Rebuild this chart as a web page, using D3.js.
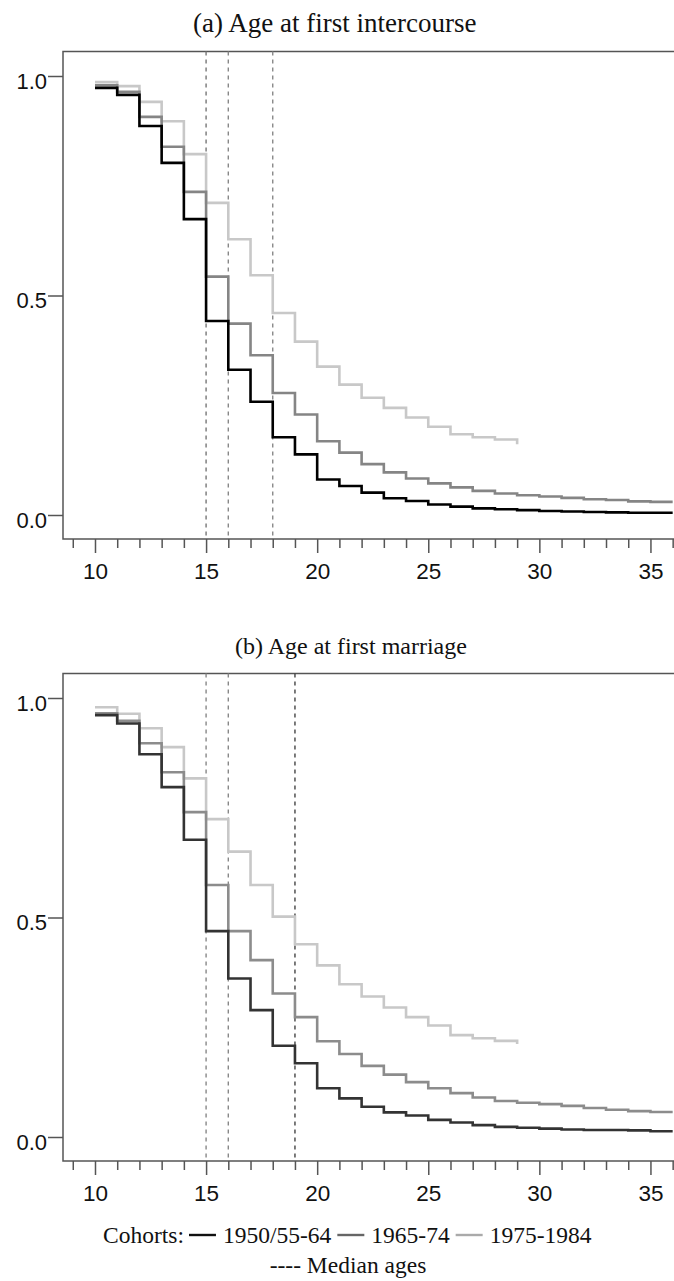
<!DOCTYPE html>
<html>
<head>
<meta charset="utf-8">
<script src="https://cdn.jsdelivr.net/npm/d3@7"></script>
<style>
  body { margin: 0; background: #fff; }
  svg { display: block; }
</style>
</head>
<body>
<div id="chart"></div>
<script>
// survival curves, one value per year of age starting at 10
const ages = [10, 11, 12, 13, 14, 15, 16, 17, 18, 19, 20, 21, 22, 23, 24, 25, 26, 27, 28, 29, 30, 31, 32, 33, 34, 35, 36];
const xTicks = [9, 10, 11, 12, 13, 14, 15, 16, 17, 18, 19, 20, 21, 22, 23, 24, 25, 26, 27, 28, 29, 30, 31, 32, 33, 34, 35, 36];
const xLabels = [10, 15, 20, 25, 30, 35];
const yTicks = [0, 0.5, 1];

const cohorts = ["1950/55-64", "1965-74", "1975-1984"];

// (a) first intercourse
const sexOld = [0.973, 0.957, 0.886, 0.802, 0.674, 0.442, 0.331, 0.258, 0.177, 0.138, 0.081, 0.066, 0.051, 0.038, 0.032, 0.024, 0.019, 0.015, 0.013, 0.011, 0.009, 0.008, 0.007, 0.006, 0.005, 0.005];
const sexMid = [0.979, 0.964, 0.907, 0.839, 0.736, 0.543, 0.436, 0.364, 0.278, 0.229, 0.168, 0.142, 0.116, 0.097, 0.083, 0.072, 0.063, 0.055, 0.049, 0.045, 0.042, 0.039, 0.036, 0.034, 0.031, 0.030];
const sexYoung = [0.986, 0.977, 0.941, 0.897, 0.822, 0.711, 0.628, 0.546, 0.460, 0.395, 0.338, 0.297, 0.267, 0.244, 0.222, 0.201, 0.184, 0.177, 0.172, 0.161];
const sexMedians = [15, 16, 18];

// (b) first marriage
const marOld = [0.961, 0.942, 0.872, 0.797, 0.677, 0.469, 0.361, 0.289, 0.208, 0.168, 0.111, 0.088, 0.069, 0.056, 0.049, 0.039, 0.033, 0.027, 0.023, 0.021, 0.019, 0.017, 0.016, 0.016, 0.015, 0.013];
const marMid = [0.965, 0.948, 0.897, 0.831, 0.740, 0.574, 0.469, 0.403, 0.327, 0.273, 0.218, 0.189, 0.162, 0.142, 0.125, 0.111, 0.100, 0.090, 0.082, 0.078, 0.075, 0.071, 0.066, 0.062, 0.059, 0.057];
const marYoung = [0.979, 0.964, 0.931, 0.888, 0.817, 0.724, 0.650, 0.574, 0.502, 0.439, 0.391, 0.348, 0.320, 0.295, 0.273, 0.254, 0.232, 0.225, 0.219, 0.212];
const marMedians = [15, 16, 19];

const width = 674, height = 1281;
const serif = "'Liberation Serif', 'Times New Roman', serif";
const sans = "'Liberation Sans', Arial, sans-serif";

const svg = d3.select("#chart").append("svg")
    .attr("width", width)
    .attr("height", height);

const x = d3.scaleLinear().domain([8.56, 36.06]).range([63, 674]);

const panels = [
    { title: "(a) Age at first intercourse", titleX: 193, titleSize: 27, series: [sexYoung, sexMid, sexOld],
      colors: ["#c8c8c8", "#858585", "#000000"], medians: sexMedians, medColors: ["#777", "#888", "#888"], top: 0 },
    { title: "(b) Age at first marriage", titleX: 235, titleSize: 24, series: [marYoung, marMid, marOld],
      colors: ["#c8c8c8", "#8c8c8c", "#333333"], medians: marMedians, medColors: ["#888", "#888", "#444"], top: 622 }
];

panels.forEach(p => {
    const g = svg.append("g").attr("transform", `translate(0,${p.top})`);
    const y = d3.scaleLinear().domain([0, 1]).range([515, 76]);
    const frameTop = 51.5, axisY = 539;

    g.append("text")
        .attr("x", p.titleX)
        .attr("y", 32)
        .attr("font-family", serif)
        .attr("font-size", p.titleSize)
        .attr("fill", "#111")
        .text(p.title);

    // frame: top, left, bottom
    g.append("path")
        .attr("d", `M674,${frameTop}H63V${axisY}H674`)
        .attr("fill", "none")
        .attr("stroke", "#555")
        .attr("stroke-width", 1.5);

    // median lines
    g.selectAll(".median")
        .data(p.medians)
        .join("line")
        .attr("x1", d => x(d)).attr("x2", d => x(d))
        .attr("y1", frameTop).attr("y2", axisY)
        .attr("stroke", (d, i) => p.medColors[i])
        .attr("stroke-width", 1.4)
        .attr("stroke-dasharray", "4,4");

    const line = d3.line()
        .x(d => x(d[0]))
        .y(d => y(d[1]))
        .curve(d3.curveStepAfter);

    p.series.forEach((vals, i) => {
        const pts = vals.map((v, j) => [ages[j], v]);
        // full series carry on to the right edge
        if (vals.length === 26) pts.push([ages[26], vals[25]]);
        g.append("path")
            .datum(pts)
            .attr("d", line)
            .attr("fill", "none")
            .attr("stroke", p.colors[i])
            .attr("stroke-width", 2.6);
    });

    // x axis: minor and major ticks
    const minor = d3.axisBottom(x).tickValues(xTicks.filter(t => !xLabels.includes(t)))
        .tickSize(9).tickFormat("");
    const major = d3.axisBottom(x).tickValues(xLabels).tickSize(14);
    [minor, major].forEach(ax => {
        const a = g.append("g").attr("transform", `translate(0,${axisY})`).call(ax);
        a.select(".domain").remove();
        a.selectAll("line").attr("stroke", "#555").attr("stroke-width", 1.5);
        a.selectAll("text")
            .attr("y", 24)
            .attr("font-family", sans)
            .attr("font-size", 22.5)
            .attr("fill", "#111");
    });

    const yAx = g.append("g").attr("transform", "translate(63,0)")
        .call(d3.axisLeft(y).tickValues(yTicks).tickSize(15).tickFormat(d3.format(".1f")));
    yAx.select(".domain").remove();
    yAx.selectAll("line").attr("stroke", "#555").attr("stroke-width", 1.5);
    yAx.selectAll("text")
        .attr("x", -16)
        .attr("dy", "0.55em")
        .attr("font-family", sans)
        .attr("font-size", 22)
        .attr("fill", "#111");
});

// legend
const leg = svg.append("g").attr("font-family", serif).attr("font-size", 23.5).attr("fill", "#111");
let cx = 103;
const ly = 1243;
const t0 = leg.append("text").attr("x", cx).attr("y", ly).text("Cohorts:");
cx += t0.node().getComputedTextLength() + 5;
const legColors = ["#111111", "#666666", "#aaaaaa"];
cohorts.forEach((c, i) => {
    leg.append("line")
        .attr("x1", cx).attr("x2", cx + 27)
        .attr("y1", ly - 8).attr("y2", ly - 8)
        .attr("stroke", legColors[i]).attr("stroke-width", 2.4);
    cx += 34;
    const t = leg.append("text").attr("x", cx).attr("y", ly).text(c);
    cx += t.node().getComputedTextLength() + 6;
});
leg.append("text")
    .attr("x", 348).attr("y", 1273)
    .attr("text-anchor", "middle")
    .text("---- Median ages");
</script>
</body>
</html>
